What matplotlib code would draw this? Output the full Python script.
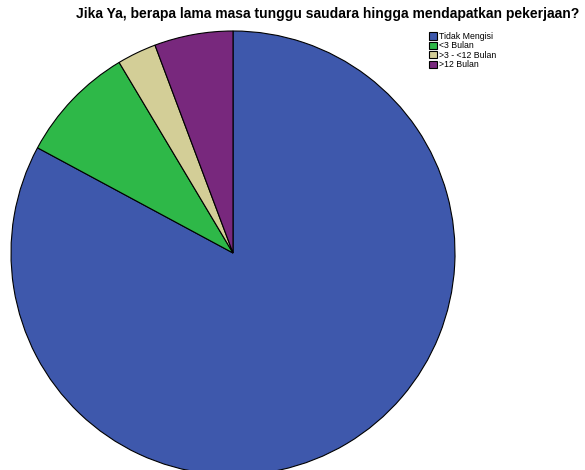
import matplotlib
matplotlib.use('Agg')
from matplotlib import pyplot as plt

plt.rcParams['font.family'] = ['Liberation Sans', 'DejaVu Sans']

labels = ['Tidak Mengisi', '<3 Bulan', '>3 - <12 Bulan', '>12 Bulan']
counts = [29, 3, 1, 2]
colors = ['#3E58AC', '#2EB848', '#D3CE97', '#78287D']

W, H = 585, 470
fig = plt.figure(figsize=(W / 100, H / 100), dpi=100)

# pie centre (233, 253) px, radius 222 px
cx, cy, r = 233, 253, 222
ax = fig.add_axes([(cx - r) / W, (H - cy - r) / H, 2 * r / W, 2 * r / H])
wedges, _ = ax.pie(counts, colors=colors, startangle=90, counterclock=False,
                   radius=1, wedgeprops=dict(edgecolor='black', linewidth=0.8))
ax.set_xlim(-1, 1)
ax.set_ylim(-1, 1)
ax.axis('off')
for w in wedges:
    w.set_clip_on(False)

fig.text(328 / W, 1 - 14 / H, 'Jika Ya, berapa lama masa tunggu saudara hingga mendapatkan pekerjaan?',
         ha='center', va='center', fontsize=10, fontweight='bold')

leg = fig.legend(wedges, labels, loc='upper left', bbox_to_anchor=(429 / W, 1 - 32 / H),
                 fontsize=6.3, frameon=False, handlelength=0.9, handleheight=0.9,
                 labelspacing=0.05, handletextpad=0.3, borderaxespad=0, borderpad=0)

plt.savefig('out.png', dpi=100)
